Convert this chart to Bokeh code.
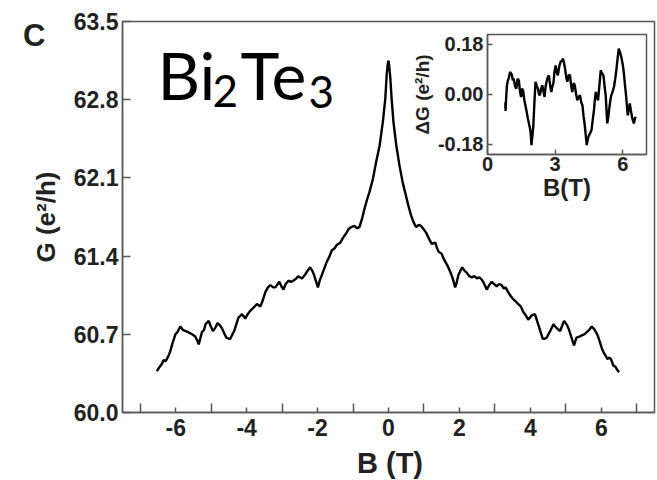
from bokeh.plotting import figure
from bokeh.models import Range1d, FixedTicker, PrintfTickFormatter, Label, Div
from bokeh.layouts import column
from bokeh.embed import file_html
from bokeh.resources import INLINE

# Magnetoconductance G(B) of the Bi2Te3 film, in units of e^2/h
field_T = [
    -6.53, -6.45, -6.40, -6.34, -6.28, -6.20, -6.15, -6.10, -6.05, -6.01,
    -5.95, -5.87, -5.80, -5.73, -5.65, -5.60, -5.54, -5.45, -5.40, -5.35,
    -5.30, -5.26, -5.20, -5.16, -5.10, -5.07, -5.01, -4.95, -4.88, -4.82,
    -4.75, -4.69, -4.62, -4.57, -4.50, -4.46, -4.40, -4.35, -4.28, -4.23,
    -4.13, -4.08, -4.04, -3.97, -3.90, -3.80, -3.71, -3.61, -3.55, -3.47,
    -3.40, -3.33, -3.25, -3.19, -3.08, -3.02, -2.96, -2.90, -2.82, -2.75,
    -2.68, -2.60, -2.55, -2.44, -2.36, -2.30, -2.21, -2.15, -2.11, -2.05,
    -1.99, -1.94, -1.88, -1.81, -1.74, -1.66, -1.60, -1.52, -1.46, -1.36,
    -1.27, -1.20, -1.13, -1.05,
    -0.96, -0.89, -0.82, -0.75, -0.68, -0.61, -0.54, -0.44, -0.35, -0.25,
    -0.16, -0.09, -0.05, -0.02, 0.00, 0.02, 0.05, 0.09, 0.14, 0.22,
    0.31, 0.40, 0.50, 0.57, 0.64, 0.71, 0.78, 0.85, 0.92, 0.99,
    1.06, 1.15, 1.22, 1.32, 1.36, 1.41, 1.50, 1.55, 1.60, 1.67,
    1.74, 1.81, 1.88, 1.92, 1.97, 2.03, 2.08, 2.14, 2.21, 2.28,
    2.35, 2.42, 2.49, 2.56, 2.63, 2.70, 2.77, 2.84, 2.91, 2.98,
    3.05, 3.12, 3.19, 3.25, 3.30, 3.37, 3.43, 3.50, 3.57, 3.66,
    3.73, 3.80, 3.87, 3.94, 4.04, 4.13, 4.18, 4.23, 4.29, 4.35,
    4.40, 4.46, 4.51, 4.56, 4.65, 4.70, 4.76, 4.84, 4.90, 4.95,
    5.04, 5.09, 5.14, 5.19, 5.23, 5.30, 5.38, 5.45, 5.52, 5.59,
    5.66, 5.73, 5.79, 5.85, 5.91, 5.96, 6.01, 6.06, 6.12, 6.17,
    6.22, 6.27, 6.34, 6.40, 6.45, 6.50,
]
conductance = [
    60.37, 60.41, 60.43, 60.47, 60.46, 60.51, 60.55, 60.61, 60.66, 60.70,
    60.72, 60.77, 60.74, 60.73, 60.72, 60.71, 60.70, 60.68, 60.65, 60.61,
    60.67, 60.72, 60.74, 60.79, 60.81, 60.82, 60.77, 60.73, 60.76, 60.80,
    60.78, 60.75, 60.70, 60.67, 60.66, 60.66, 60.70, 60.73, 60.80, 60.85,
    60.88, 60.86, 60.84, 60.88, 60.91, 60.94, 60.97, 60.95, 61.00, 61.08,
    61.12, 61.14, 61.12, 61.12, 61.17, 61.13, 61.10, 61.15, 61.18, 61.17,
    61.18, 61.20, 61.22, 61.20, 61.23, 61.26, 61.30, 61.27, 61.24, 61.18,
    61.12, 61.18, 61.23, 61.29, 61.35, 61.40, 61.45, 61.47, 61.50, 61.52,
    61.57, 61.60, 61.64, 61.66,
    61.67, 61.65, 61.66, 61.73, 61.82, 61.90, 61.97, 62.09, 62.24, 62.39,
    62.60, 62.81, 63.03, 63.12, 63.15, 63.10, 63.00, 62.80, 62.60, 62.39,
    62.21, 62.06, 61.93, 61.84, 61.76, 61.70, 61.66, 61.68, 61.67, 61.64,
    61.61, 61.55, 61.51, 61.52, 61.48, 61.44, 61.42, 61.38, 61.35, 61.31,
    61.26, 61.20, 61.12, 61.16, 61.23, 61.27, 61.30, 61.27, 61.25, 61.22,
    61.21, 61.22, 61.20, 61.21, 61.19, 61.15, 61.10, 61.14, 61.17, 61.15,
    61.13, 61.15, 61.14, 61.11, 61.12, 61.08, 61.05, 61.02, 61.00, 60.97,
    60.95, 60.90, 60.87, 60.83, 60.87, 60.88, 60.83, 60.78, 60.72, 60.66,
    60.66, 60.67, 60.70, 60.73, 60.79, 60.77, 60.75, 60.73, 60.78, 60.82,
    60.78, 60.74, 60.69, 60.64, 60.60, 60.67, 60.68, 60.69, 60.70, 60.72,
    60.74, 60.77, 60.75, 60.72, 60.68, 60.63, 60.58, 60.54, 60.51, 60.48,
    60.49, 60.48, 60.42, 60.41, 60.38, 60.36,
]

# Inset: fluctuating part Delta G after background subtraction
inset_field_T = [
    0.79, 0.80, 0.83, 0.86, 0.89, 0.95, 1.00, 1.04, 1.08, 1.12,
    1.16, 1.22, 1.28, 1.33, 1.39, 1.44, 1.49, 1.53, 1.58, 1.63,
    1.68, 1.73, 1.79, 1.85, 1.91, 1.95, 1.99, 2.03, 2.08, 2.13,
    2.18, 2.24, 2.28, 2.32, 2.38, 2.43, 2.48, 2.53, 2.58, 2.62,
    2.67, 2.72, 2.78, 2.83, 2.88, 2.92, 2.97, 3.02, 3.07, 3.12,
    3.18, 3.24, 3.30, 3.35, 3.40, 3.44, 3.49, 3.54, 3.60, 3.66,
    3.71, 3.76, 3.82, 3.87, 3.93, 3.98, 4.04, 4.10, 4.16, 4.21,
    4.26, 4.31, 4.36, 4.40, 4.45, 4.50, 4.55, 4.61, 4.67, 4.72,
    4.76, 4.80, 4.85, 4.90, 4.96, 5.02, 5.08, 5.14, 5.19, 5.24,
    5.28, 5.31, 5.36, 5.40, 5.45, 5.49, 5.55, 5.61, 5.67, 5.72,
    5.77, 5.82, 5.88, 5.93, 5.99, 6.04, 6.10, 6.15, 6.19, 6.22,
    6.27, 6.31, 6.36, 6.42, 6.49, 6.56,
]
delta_g = [
    -0.030, -0.060, -0.010, 0.030, 0.045, 0.060, 0.080, 0.075, 0.070, 0.050,
    0.056, 0.030, 0.020, 0.055, 0.050, 0.010, -0.010, 0.020, 0.014, -0.020,
    -0.040, -0.060, -0.087, -0.110, -0.135, -0.183, -0.150, -0.117, -0.030, 0.045,
    0.030, 0.020, 0.000, -0.004, 0.020, 0.032, 0.010, -0.010, 0.030, 0.045,
    0.060, 0.068, 0.030, 0.008, 0.030, 0.038, 0.080, 0.104, 0.080, 0.068,
    0.100, 0.117, 0.120, 0.128, 0.110, 0.092, 0.060, 0.045, 0.070, 0.068,
    0.030, 0.008, 0.040, 0.032, 0.000, -0.022, -0.010, -0.004, -0.030, -0.040,
    -0.080, -0.110, -0.150, -0.183, -0.160, -0.148, -0.140, -0.130, -0.090, -0.058,
    -0.020, 0.008, -0.010, -0.022, 0.030, 0.086, 0.075, 0.068, 0.030, -0.004,
    -0.060, -0.105, -0.080, -0.051, -0.020, -0.004, 0.010, 0.027, 0.060, 0.092,
    0.130, 0.164, 0.150, 0.135, 0.110, 0.081, 0.030, -0.010, -0.050, -0.076,
    -0.050, -0.033, -0.060, -0.087, -0.105, -0.081,
]

main_yticks = [60.0, 60.7, 61.4, 62.1, 62.8, 63.5]
main_xticks = [-6, -4, -2, 0, 2, 4, 6]
main_xminor = [-7, -5, -3, -1, 1, 3, 5, 7]
inset_xticks = [0, 3, 6]
inset_yticks = [-0.18, 0.0, 0.18]

FONT = "Liberation Sans"
INK = "#222222"
FRAME = "#5c5656"

# ---- main panel -------------------------------------------------------------
p = figure(width=657, height=480, x_range=Range1d(-7.5, 7.5),
           y_range=Range1d(60.0, 63.5), output_backend="svg",
           toolbar_location=None, min_border_left=122, min_border_right=3,
           min_border_top=21, min_border_bottom=68)
p.grid.visible = False
p.outline_line_color = FRAME
p.outline_line_width = 1.5
p.background_fill_color = "white"
p.border_fill_color = "white"

p.line(field_T, conductance, line_color="black", line_width=2.4)

xa = p.xaxis[0]
xa.ticker = FixedTicker(ticks=main_xticks, minor_ticks=main_xminor)
xa.formatter = PrintfTickFormatter(format="%d")
ya = p.yaxis[0]
ya.ticker = FixedTicker(ticks=main_yticks)
ya.formatter = PrintfTickFormatter(format="%.1f")
ya.axis_label = "G (e\u00b2/h)"

for ax in (xa, ya):
    ax.axis_line_color = FRAME
    ax.axis_line_width = 1.5
    ax.major_tick_line_color = FRAME
    ax.major_tick_line_width = 1.5
    ax.minor_tick_line_color = FRAME
    ax.minor_tick_line_width = 1.5
    ax.major_tick_out = 0
    ax.minor_tick_out = 0
    ax.major_label_text_font = FONT
    ax.major_label_text_font_style = "bold"
    ax.major_label_text_color = INK
    ax.major_label_text_font_size = "23px"
    ax.axis_label_text_font = FONT
    ax.axis_label_text_font_style = "bold"
    ax.axis_label_text_color = INK

xa.major_tick_in = 5
xa.minor_tick_in = 9
xa.major_label_standoff = 6
ya.major_tick_in = 8
ya.minor_tick_in = 0
ya.major_label_standoff = 4
ya.axis_label_text_font_size = "26px"
ya.axis_label_standoff = 10


def mx(px):
    return -7.5 + (px - 122) * 15.0 / 532.0


def my(py):
    return 63.5 - (py - 21) * 3.5 / 391.0


# chemical formula inside the frame; labels are centred vertically on y,
# subscripts sit lower than the capitals
formula = [("Bi", 157, 74, "66px"), ("2", 212, 90, "44px"),
           ("Te", 240, 74, "66px"), ("3", 308, 91, "44px")]
for txt, px, py, size in formula:
    p.add_layout(Label(x=mx(px), y=my(py), text=txt, text_font="Lato",
                       text_font_size=size, text_color="black",
                       text_baseline="middle", text_align="left"))

# ---- inset panel ------------------------------------------------------------
# the column aligns plot borders, so the inset carries the main left border
inset = figure(width=284, height=174, x_range=Range1d(0, 7.05),
               y_range=Range1d(-0.217, 0.215), output_backend="svg",
               toolbar_location=None, min_border_left=75, min_border_right=3,
               min_border_top=4, min_border_bottom=50,
               styles={"position": "absolute", "left": "365px", "top": "30px"})
inset.grid.visible = False
inset.outline_line_color = FRAME
inset.outline_line_width = 1.5
inset.background_fill_color = "white"
inset.border_fill_alpha = 0

inset.line(inset_field_T, delta_g, line_color="black", line_width=2.4)

ixa = inset.xaxis[0]
ixa.ticker = FixedTicker(ticks=inset_xticks)
ixa.formatter = PrintfTickFormatter(format="%d")
ixa.axis_label = "B(T)"
iya = inset.yaxis[0]
iya.ticker = FixedTicker(ticks=inset_yticks)
iya.formatter = PrintfTickFormatter(format="%.2f")
iya.axis_label = "\u0394G (e\u00b2/h)"
for ax in (ixa, iya):
    ax.axis_line_color = FRAME
    ax.axis_line_width = 1.5
    ax.major_tick_line_color = FRAME
    ax.major_tick_line_width = 1.5
    ax.major_tick_in = 5
    ax.major_tick_out = 0
    ax.minor_tick_line_color = None
    ax.major_label_text_font = FONT
    ax.major_label_text_font_style = "bold"
    ax.major_label_text_color = INK
    ax.major_label_text_font_size = "20px"
    ax.axis_label_text_font = FONT
    ax.axis_label_text_font_style = "bold"
    ax.axis_label_text_color = INK
ixa.major_label_standoff = 2
ixa.axis_label_text_font_size = "24px"
ixa.axis_label_standoff = 0
iya.major_label_standoff = 4
iya.axis_label_text_font_size = "19px"
iya.axis_label_standoff = 2

# ---- texts placed on the page outside the frame ----------------------------
text_css = {"font-family": FONT, "font-weight": "bold", "color": INK,
            "white-space": "nowrap", "margin": "0", "padding": "0"}
panel_letter = Div(text="C", width=40, height=34, margin=(0, 0, 0, 0),
                   styles=dict(text_css, **{"position": "absolute",
                                            "left": "23px", "top": "18px",
                                            "font-size": "31px",
                                            "line-height": "normal"}))
x_title = Div(text="B (T)", width=200, height=29, margin=(0, 0, 0, 0),
              styles=dict(text_css, **{"position": "absolute",
                                       "left": "290px", "top": "449px",
                                       "font-size": "29px",
                                       "line-height": "29px",
                                       "text-align": "center"}))

layout = column(p, inset, panel_letter, x_title)
open("out.html", "w").write(file_html(layout, INLINE))
